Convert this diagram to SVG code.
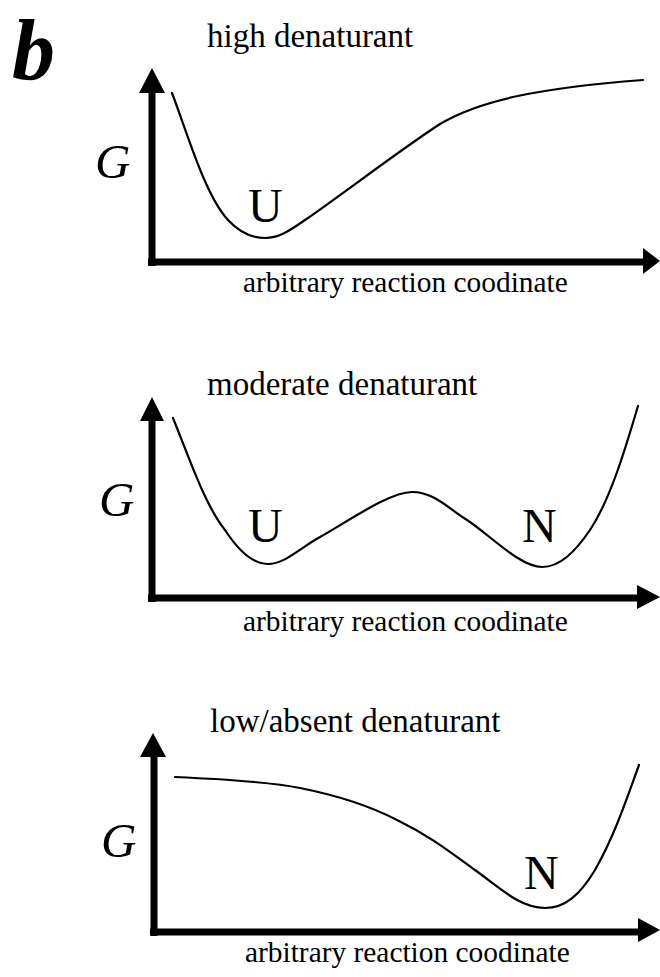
<svg xmlns="http://www.w3.org/2000/svg" width="660" height="977" viewBox="0 0 660 977">
<style>
.t{font-family:"Liberation Serif","Times New Roman",serif;fill:#000}
.title{font-size:33px}
.lab{font-size:29.4px}
.g{font-size:49px;font-style:italic}
.st{font-size:48px}
.ax{stroke:#000;stroke-width:7;fill:none}
.cv{stroke:#000;stroke-width:2.2;fill:none;stroke-linecap:round}
.ah{fill:#000}
</style>
<rect width="660" height="977" fill="#fff"/>
<text class="t" x="12" y="79" font-size="86" font-weight="bold" font-style="italic">b</text>

<g id="panel-high">
<text class="t title" x="207" y="47">high denaturant</text>
<text class="t g" x="95" y="178">G</text>
<text class="t st" x="248" y="222">U</text>
<text class="t lab" x="243" y="292">arbitrary reaction coodinate</text>
<path class="cv" d="M172,93 C188,135 205,195 228,220 C240,233 252,238 265,238 C278,238 288,232 305,220 C340,196 400,150 440,124 C480,100 540,88 643,80"/>
</g>

<g id="panel-moderate">
<text class="t title" x="207" y="395">moderate denaturant</text>
<text class="t g" x="99" y="516">G</text>
<text class="t st" x="248" y="542">U</text>
<text class="t st" x="522" y="542">N</text>
<text class="t lab" x="243" y="631">arbitrary reaction coodinate</text>
<path class="cv" d="M173,418 C190,460 205,505 225,530 C238,550 252,564 268,564 C285,564 300,548 320,537 C350,520 390,492 412,492 C435,492 450,510 467,520 C490,535 520,567 542,567 C560,567 575,552 590,530 C610,500 625,450 638,406"/>
</g>

<g id="panel-low">
<text class="t title" x="210" y="732">low/absent denaturant</text>
<text class="t g" x="101" y="857">G</text>
<text class="t st" x="524" y="889">N</text>
<text class="t lab" x="245" y="962">arbitrary reaction coodinate</text>
<path class="cv" d="M175,777 C220,779 270,782 300,788 C340,796 370,806 397,820 C430,836 450,852 475,870 C500,888 520,908 545,908 C565,908 580,895 595,870 C615,835 628,795 639,765"/>
</g>

<g id="connectors">
<path class="ax" d="M152,90 V266 M148,262 H645"/>
<polygon class="ah" points="152,68 139,93 165,93"/>
<polygon class="ah" points="660,261 643,248 643,274"/>
<path class="ax" d="M152,418 V602 M148,598 H639"/>
<polygon class="ah" points="152,397 140,421 164,421"/>
<polygon class="ah" points="660,597 637,585 637,609"/>
<path class="ax" d="M154,755 V936 M150,932 H640"/>
<polygon class="ah" points="153,733 140,757 166,757"/>
<polygon class="ah" points="660,930 638,918 638,942"/>
</g>
</svg>
